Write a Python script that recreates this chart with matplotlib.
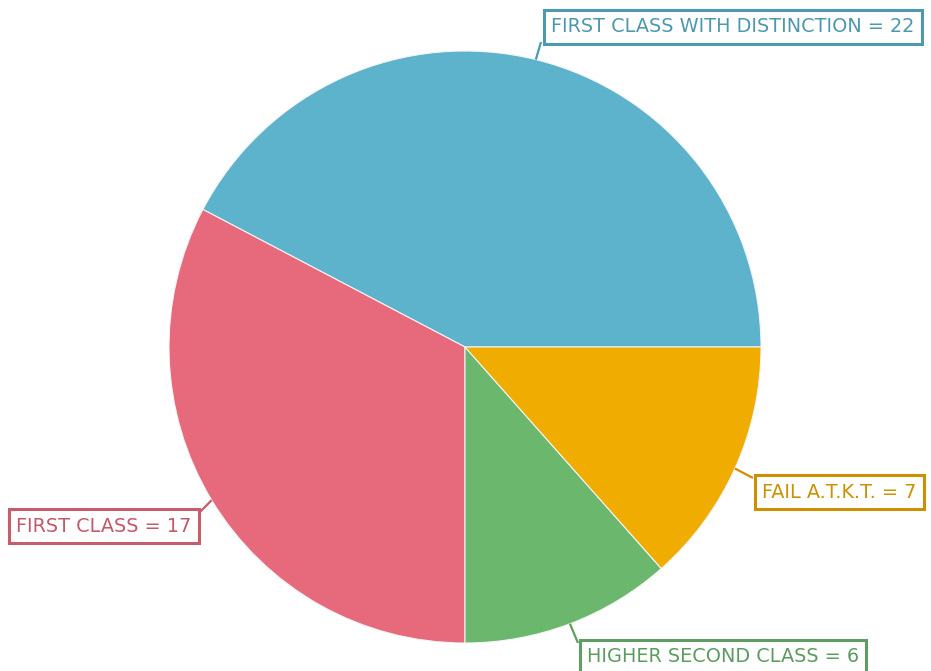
import matplotlib
matplotlib.use("Agg")
import matplotlib.pyplot as plt
import numpy as np

categories = ["FIRST CLASS WITH DISTINCTION", "FIRST CLASS", "HIGHER SECOND CLASS", "FAIL A.T.K.T."]
values = [22, 17, 6, 7]
colors = ["#5EB3CC", "#E66A7C", "#6BB76E", "#F0AD00"]
text_colors = ["#4E98AE", "#C25A6A", "#5C9C60", "#C89200"]
edge_colors = ["#4C9AB0", "#C55D6C", "#5E9E62", "#CC9000"]

W, H = 931, 671
fig = plt.figure(figsize=(W / 100, H / 100), dpi=100)
ax = fig.add_axes([0, 0, 1, 1])

cx, cy, r = 465, 347, 296
# y axis is inverted (pixel coords), so counterclock=False renders visually counter-clockwise
wedges, _ = ax.pie(values, colors=colors, startangle=0, counterclock=False,
                   center=(cx, cy), radius=r, frame=True,
                   wedgeprops=dict(edgecolor="#f4f4f4", linewidth=0.8))
ax.set_xlim(0, W)
ax.set_ylim(H, 0)
ax.set_aspect("equal")
ax.axis("off")

# label text anchors (left edge, vertical center) and connector endpoints on box
box_pos = [(551, 27), (16, 526), (587, 657), (762, 492)]
line_end = [(541, 42), (199, 513), (578, 643), (753, 478)]

for i, v in enumerate(values):
    w = wedges[i]
    theta = np.deg2rad((w.theta1 + w.theta2) / 2)
    px = w.center[0] + r * np.cos(theta)
    py = w.center[1] + r * np.sin(theta)
    ax.plot([px, line_end[i][0]], [py, line_end[i][1]], color=edge_colors[i], lw=1.6,
            solid_capstyle="butt", zorder=3)
    ax.text(box_pos[i][0], box_pos[i][1], f"{categories[i]} = {values[i]}",
            ha="left", va="center", fontsize=13.9, color=text_colors[i],
            family="DejaVu Sans", zorder=4,
            bbox=dict(boxstyle="square,pad=0.38", facecolor="white",
                      edgecolor=edge_colors[i], linewidth=2.2))

fig.savefig("out.png", dpi=100)
